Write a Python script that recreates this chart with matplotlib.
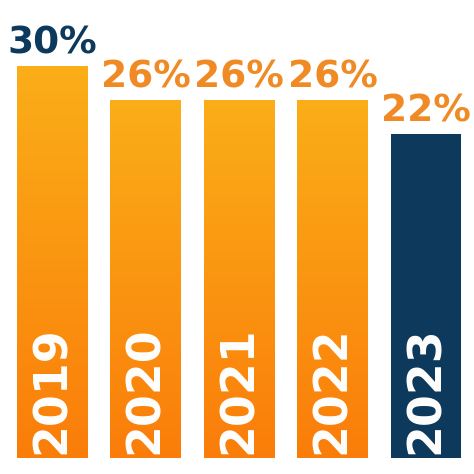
import matplotlib
matplotlib.use("Agg")
import matplotlib.pyplot as plt
import numpy as np
from matplotlib.patches import Rectangle

years = ["2019", "2020", "2021", "2022", "2023"]
values = [30, 26, 26, 26, 22]
label_colors = ["#0d3a5c", "#f08a24", "#f08a24", "#f08a24", "#f08a24"]
bar_kinds = ["grad", "grad", "grad", "grad", "navy"]

base = -16
fig = plt.figure(figsize=(4.74, 4.74), dpi=100)
ax = fig.add_axes([0, 0, 1, 1])
ax.set_xlim(-0.556, 4.513)
ax.set_ylim(-17.9, 37.8)
ax.axis("off")
font = dict(family=["Liberation Sans Narrow", "DejaVu Sans"], weight="bold")
grad = np.linspace(0, 1, 256).reshape(-1, 1)
from matplotlib.colors import LinearSegmentedColormap
cmap = LinearSegmentedColormap.from_list("g", ["#fa7d0a", "#fbae18"])
w = 0.75
for i, (y, v, lc, k) in enumerate(zip(years, values, label_colors, bar_kinds)):
    rect = Rectangle((i - w/2, base), w, v - base, facecolor="#0d3a5c" if k == "navy" else "none", edgecolor="none")
    ax.add_patch(rect)
    if k == "grad":
        im = ax.imshow(grad, cmap=cmap, aspect="auto", origin="lower",
                       extent=(i - w/2, i + w/2, base, v), zorder=1)
        im.set_clip_path(rect)
    ax.text(i, v + 0.6, f"{v}%", ha="center", va="bottom", color=lc, fontsize=27, **font)
    ax.text(i, base + 0.5, y, ha="center", va="bottom", rotation=90, color="white", fontsize=33, zorder=3, **font)
fig.savefig("out.png", dpi=100)
